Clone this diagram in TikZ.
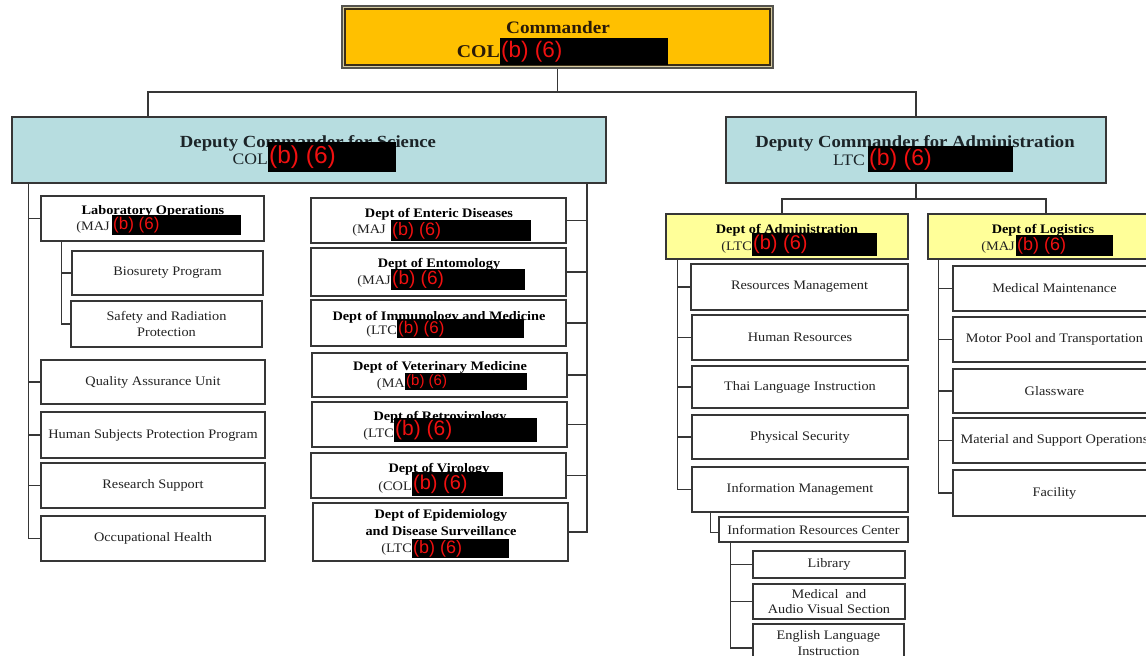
\documentclass[tikz,border=0pt]{standalone}
\usepackage{fontspec}
\setmainfont{Liberation Serif}[FakeStretch=1.1]
\newfontfamily\redfont{Liberation Sans}
\usetikzlibrary{calc}

\definecolor{cmdfill}{HTML}{FFC000}
\definecolor{cmdgap}{HTML}{D6CBA0}
\definecolor{cmdedge}{HTML}{55544F}
\definecolor{cmdinner}{HTML}{3A2E18}
\definecolor{cmdtxt}{HTML}{2A1A08}
\definecolor{depfill}{HTML}{B7DDE0}
\definecolor{deptxt}{HTML}{1C2428}
\definecolor{dptfill}{HTML}{FFFF99}
\definecolor{linec}{HTML}{363636}
\definecolor{txtc}{HTML}{222222}
\definecolor{redc}{HTML}{F01010}

\newcommand{\fs}[2]{\fontsize{#1}{#2}\selectfont}

% box from (x1,y1) to (x2,y2): style, name, x1, y1, x2, y2, text
\newcommand{\bx}[7]{%
  \node[#1, minimum width={#5-#3}, minimum height={#6-#4}] (#2) at ({(#3+#5)/2},{(#4+#6)/2}) {#7};}

% blacked-out name field with its red exemption mark
\newcommand{\redact}[6]{%
  \node[fill=black, inner sep=0pt, anchor=north west,
        minimum width={#4-#2}, minimum height={#5-#3}] (#1) at (#2,#3) {};
  \node[anchor=west, inner sep=0pt, text=redc,
        font=\redfont\fontsize{#6}{#6}\selectfont] (#1-t) at ([xshift=1pt]#1.west) {(b) (6)};}

\tikzset{
  conn/.style={draw=linec, line width=1.4pt},
  box/.style={draw=linec, line width=1.6pt, fill=white, inner sep=0pt,
              align=center, text=txtc, font=\fs{13}{15.5}},
  depbox/.style={box, fill=depfill},
  dptbox/.style={box, fill=dptfill},
  ttl/.style={anchor=base, inner sep=0pt, text=black, font=\bfseries\fs{13}{15}},
  bigttl/.style={anchor=base, inner sep=0pt, text=deptxt, font=\bfseries\fs{17}{20}},
  rank/.style={anchor=base east, inner sep=0pt, text=txtc, font=\fs{13}{15}},
  bigrank/.style={anchor=base east, inner sep=0pt, text=deptxt, font=\fs{16}{18}},
}

\begin{document}
\begin{tikzpicture}[x=1pt, y=-1pt]
\useasboundingbox (0,0) rectangle (1146,656);
\fill[white] (0,0) rectangle (1146,656);
\clip (0,0) rectangle (1146,656);

% ---------- Commander ----------
\node[draw=cmdedge, line width=1.2pt, fill=cmdgap, inner sep=0pt,
      minimum width=431, minimum height=62] (cmd) at (557.5,37) {};
\draw[draw=cmdinner, line width=1.5pt, fill=cmdfill]
  ([shift={(3.5pt,-3.5pt)}]cmd.north west) rectangle ([shift={(-3.5pt,3.5pt)}]cmd.south east);
\node[anchor=base, inner sep=0pt, text=cmdtxt, font=\bfseries\fs{17.5}{20}] (cmd-t) at (558,33) {Commander};
\node[anchor=base east, inner sep=0pt, text=cmdtxt, font=\bfseries\fs{18}{20}] (cmd-k) at (500,57) {COL};
\redact{cmd-r}{500}{38}{668}{65}{22.5}

% ---------- Deputy commanders ----------
\bx{depbox}{sci}{12}{117}{606}{183}{}
\node[bigttl] (sci-t) at (308,147) {Deputy Commander for Science};
\node[bigrank] (sci-k) at (268,164) {COL};
\redact{sci-r}{268}{142}{396}{172}{24.5}

\bx{depbox}{adm}{726}{117}{1106}{183}{}
\node[bigttl] (adm-t) at (915,147) {Deputy Commander for Administration};
\node[bigrank] (adm-k) at (865,165) {LTC};
\redact{adm-r}{868}{146}{1013}{172}{23}

% ---------- Science: staff column ----------
\bx{box}{labops}{41}{196}{264}{241}{}
\node[ttl] (labops-t) at (153,214) {Laboratory Operations};
\node[rank] (labops-k) at (110,230) {(MAJ};
\redact{labops-r}{112}{215}{241}{235}{17}
\bx{box}{bio}{72}{251}{263}{295}{Biosurety Program}
\bx{box}{saf}{71}{301}{262}{347}{Safety and Radiation\\Protection}
\bx{box}{qa}{41}{360}{265}{404}{Quality Assurance Unit}
\bx{box}{hsp}{41}{412}{265}{458}{Human Subjects Protection Program}
\bx{box}{rs}{41}{463}{265}{508}{Research Support}
\bx{box}{occ}{41}{516}{265}{561}{Occupational Health}

% ---------- Science: departments ----------
\bx{box}{ent}{311}{198}{566}{243}{}
\node[ttl] (ent-t) at (439,217) {Dept of Enteric Diseases};
\node[rank] (ent-k) at (386,233) {(MAJ};
\redact{ent-r}{391}{220}{531}{241}{18}

\bx{box}{ento}{311}{248}{566}{296}{}
\node[ttl] (ento-t) at (439,267) {Dept of Entomology};
\node[rank] (ento-k) at (391,284) {(MAJ};
\redact{ento-r}{391}{269}{525}{290}{19}

\bx{box}{imm}{311}{300}{566}{346}{}
\node[ttl] (imm-t) at (439,320) {Dept of Immunology and Medicine};
\node[rank] (imm-k) at (397,334) {(LTC};
\redact{imm-r}{397}{319}{524}{338}{17}

\bx{box}{vet}{312}{353}{567}{397}{}
\node[ttl] (vet-t) at (440,370) {Dept of Veterinary Medicine};
\node[rank] (vet-k) at (405,387) {(MA};
\redact{vet-r}{405}{373}{527}{390}{15}

\bx{box}{ret}{312}{402}{567}{447}{}
\node[ttl] (ret-t) at (440,420) {Dept of Retrovirology};
\node[rank] (ret-k) at (394,437) {(LTC};
\redact{ret-r}{394}{418}{537}{442}{21}

\bx{box}{vir}{311}{453}{566}{498}{}
\node[ttl] (vir-t) at (439,472) {Dept of Virology};
\node[rank] (vir-k) at (412,490) {(COL};
\redact{vir-r}{412}{472}{503}{496}{20}

\bx{box}{epi}{313}{503}{568}{561}{}
\node[ttl] (epi-t1) at (441,518) {Dept of Epidemiology};
\node[ttl] (epi-t2) at (441,535) {and Disease Surveillance};
\node[rank] (epi-k) at (412,552) {(LTC};
\redact{epi-r}{412}{539}{509}{558}{18}

% ---------- Administration: departments ----------
\bx{dptbox}{dadm}{666}{214}{908}{259}{}
\node[ttl] (dadm-t) at (787,233) {Dept of Administration};
\node[rank] (dadm-k) at (752,250) {(LTC};
\redact{dadm-r}{752}{233}{877}{256}{20}

\bx{dptbox}{dlog}{928}{214}{1158}{259}{}
\node[ttl] (dlog-t) at (1043,233) {Dept of Logistics};
\node[rank] (dlog-k) at (1015,250) {(MAJ};
\redact{dlog-r}{1016}{235}{1113}{256}{18}

% Administration sections
\bx{box}{rm}{691}{264}{908}{310}{Resources Management}
\bx{box}{hr}{692}{315}{908}{360}{Human Resources}
\bx{box}{thai}{692}{366}{908}{408}{Thai Language Instruction}
\bx{box}{ps}{692}{415}{908}{459}{Physical Security}
\bx{box}{im}{692}{467}{908}{512}{Information Management}
\bx{box}{irc}{719}{517}{908}{542}{Information Resources Center}
\bx{box}{lib}{753}{551}{905}{578}{Library}
\bx{box}{mav}{753}{584}{905}{619}{Medical\ \ and\\Audio Visual\ Section}
\bx{box}{eng}{753}{624}{904}{662}{English Language\\Instruction}

% Logistics sections
\bx{box}{mm}{953}{266}{1156}{311}{Medical Maintenance}
\bx{box}{mp}{953}{317}{1156}{362}{Motor Pool and Transportation}
\bx{box}{gw}{953}{369}{1156}{413}{Glassware}
\bx{box}{mso}{953}{418}{1156}{463}{Material and Support Operations}
\bx{box}{fac}{953}{470}{1156}{516}{Facility}

% ---------- Connectors ----------
\coordinate (bus) at (557.5,92);
\coordinate (sci-in) at (148,117);
\draw[conn] (cmd.south) -- (bus);
\draw[conn] (sci-in) |- (bus) -| (adm.north);

\coordinate (admbus) at (916,199);
\draw[conn] (adm.south) -- (admbus);
\draw[conn] ([xshift=-5pt]dadm.north) |- (admbus) -| ([xshift=3pt]dlog.north);

% science staff spine
\coordinate (spL) at ([xshift=17pt]sci.south west);
\draw[conn] (spL) |- (occ.west);
\foreach \n in {labops,qa,hsp,rs} \draw[conn] (\n.west) -- (\n.west -| spL);
\coordinate (spLO) at ([xshift=21pt]labops.south west);
\draw[conn] (spLO) |- (saf.west);
\draw[conn] (bio.west) -- (bio.west -| spLO);

% science departments spine
\coordinate (spR) at ([xshift=-20pt]sci.south east);
\draw[conn] (spR) |- (epi.east);
\foreach \n in {ent,ento,imm,vet,ret,vir} \draw[conn] (\n.east) -- (\n.east -| spR);

% administration spine
\coordinate (spA) at ([xshift=12pt]dadm.south west);
\draw[conn] (spA) |- (im.west);
\foreach \n in {rm,hr,thai,ps} \draw[conn] (\n.west) -- (\n.west -| spA);
\coordinate (spI) at ([xshift=19pt]im.south west);
\draw[conn] (spI) |- ([yshift=-3pt]irc.west);
\coordinate (spC) at ([xshift=12pt]irc.south west);
\draw[conn] (spC) |- ([yshift=-5pt]eng.west);
\foreach \n in {lib,mav} \draw[conn] (\n.west) -- (\n.west -| spC);

% logistics spine
\coordinate (spG) at ([xshift=11pt]dlog.south west);
\draw[conn] (spG) |- (fac.west);
\foreach \n in {mm,mp,gw,mso} \draw[conn] (\n.west) -- (\n.west -| spG);
\end{tikzpicture}
\end{document}
